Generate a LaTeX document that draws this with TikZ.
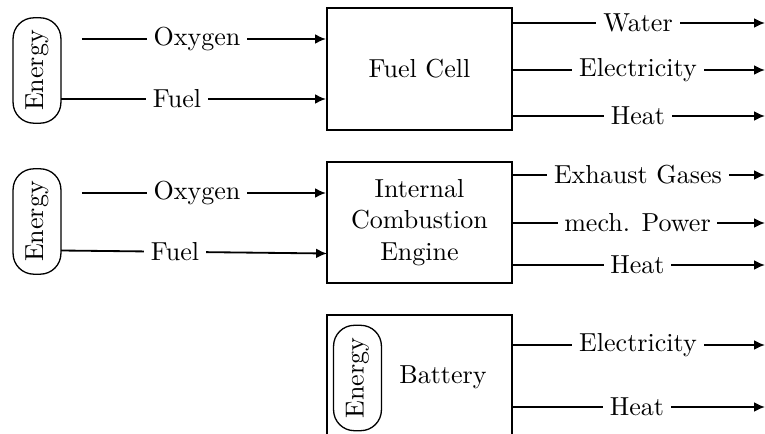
\documentclass[tikz,border=0pt]{standalone}
\usetikzlibrary{arrows.meta,calc}
\begin{document}
\begin{tikzpicture}[x=0.3843pt,y=-0.3843pt,
  blk/.style={draw,line width=0.8pt,inner sep=0pt,align=center},
  energybox/.style={draw,line width=0.5pt,rotate=90,rounded corners=8pt,minimum width=40.5pt,minimum height=18.4pt,inner sep=0pt},
  flow/.style={line width=0.7pt,-{Latex[length=4.2pt,width=3.8pt]}},
  lab/.style={fill=white,inner sep=2.6pt}]
\clip (0,0) rectangle (765,434);
% ---------- Row 1: Fuel Cell ----------
\node[energybox] (e1) at (37,70.5) {Energy};
\node[blk,minimum width=71.1pt,minimum height=46.9pt] (fc) at (419.5,69) {Fuel Cell};
\coordinate (o1s) at (82,39);
\coordinate (f1s) at (61,99);
\draw[flow] (o1s) -- (fc.west |- o1s);
\draw[flow] (f1s) -- (fc.west |- f1s);
\node[lab] (lo1) at (197,39) {Oxygen};
\node[lab] (lf1) at (177,99) {Fuel};
\coordinate (w1) at (765,23);
\coordinate (el1) at (765,70);
\coordinate (h1) at (765,116);
\draw[flow] (fc.east |- w1) -- (w1);
\draw[flow] (fc.east |- el1) -- (el1);
\draw[flow] (fc.east |- h1) -- (h1);
\node[lab] (lw1) at (638,23) {Water};
\node[lab] (lel1) at (638,70) {Electricity};
\node[lab] (lh1) at (638,116) {Heat};
% ---------- Row 2: ICE ----------
\node[energybox] (e2) at (37,221.5) {Energy};
\node[blk,minimum width=71.1pt,minimum height=46.5pt] (ice) at (419.5,222.5) {Internal\\Combustion\\Engine};
\coordinate (o2s) at (82,193);
\coordinate (f2s) at (61,250.5);
\coordinate (f2e) at (327,253.5);
\draw[flow] (o2s) -- (ice.west |- o2s);
\draw[flow] (f2s) -- (f2e);
\node[lab] (lo2) at (197,193) {Oxygen};
\node[lab] (lf2) at (175,251.5) {Fuel};
\coordinate (x2) at (765,175);
\coordinate (m2) at (765,223);
\coordinate (h2) at (765,265);
\draw[flow] (ice.east |- x2) -- (x2);
\draw[flow] (ice.east |- m2) -- (m2);
\draw[flow] (ice.east |- h2) -- (h2);
\node[lab] (lx2) at (638,175) {Exhaust Gases};
\node[lab] (lm2) at (637.5,223) {mech. Power};
\node[lab] (lh2) at (637.5,265) {Heat};
% ---------- Row 3: Battery ----------
\node[blk,minimum width=71.1pt,minimum height=50pt,anchor=north] (bat) at (419.5,314) {};
\node[energybox] (e3) at (357.5,378) {Energy};
\node (bt) at (443,377) {Battery};
\coordinate (el3) at (765,345);
\coordinate (h3) at (765,407);
\draw[flow] (bat.east |- el3) -- (el3);
\draw[flow] (bat.east |- h3) -- (h3);
\node[lab] (lel3) at (638,345) {Electricity};
\node[lab] (lh3) at (637,407) {Heat};
\end{tikzpicture}
\end{document}
